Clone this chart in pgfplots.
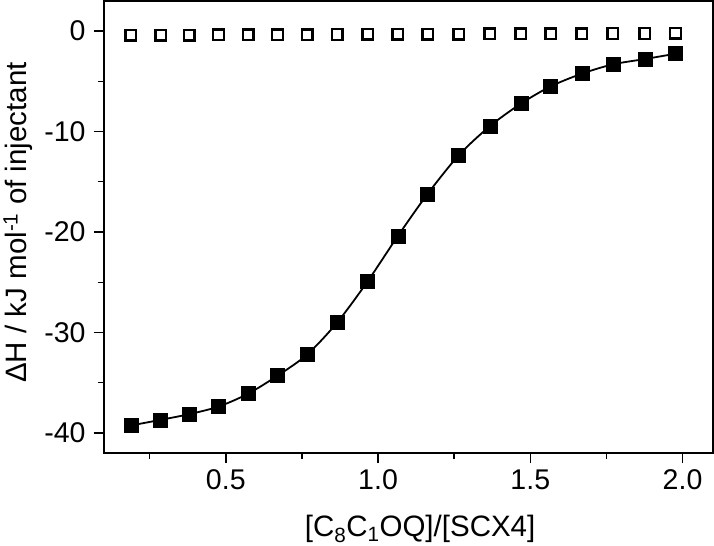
\documentclass[border=0pt]{standalone}
\usepackage{pgfplots}
\pgfplotsset{compat=1.18}
\usepackage{fontspec}
\setmainfont{Liberation Sans}

\begin{document}
\begin{tikzpicture}
\begin{axis}[
    scale only axis,
    width=609bp, height=452bp,
    xmin=0.1, xmax=2.1,
    ymin=-42, ymax=3,
    axis line style={line width=1.6bp},
    tick align=outside,
    tick style={line width=1.4bp, black},
    major tick length=10bp,
    minor tick length=6bp,
    xtick={0.5,1.0,1.5,2.0},
    minor xtick={0.25,0.75,1.25,1.75},
    ytick={-40,-30,-20,-10,0},
    minor ytick={-35,-25,-15,-5},
    xtick pos=bottom, ytick pos=left,
    tick label style={font=\fontsize{28.5bp}{32bp}\selectfont},
    /pgf/number format/assume math mode=true,
    xticklabel style={yshift=-3bp, /pgf/number format/.cd, fixed, fixed zerofill, precision=1},
    yticklabel style={xshift=-5bp},
    xlabel={[C\textsubscript{8}C\textsubscript{1}OQ]/[SCX4]},
    ylabel={ΔH / kJ mol\textsuperscript{-1} of injectant},
    every axis x label/.style={at={(axis description cs:0.519,-0.184)}, anchor=base, inner sep=0pt, font=\fontsize{29.5bp}{33bp}\selectfont},
    every axis y label/.style={at={(axis description cs:-0.127,0.51)}, anchor=base, rotate=90, inner sep=0pt, font=\fontsize{29.5bp}{33bp}\selectfont},
]
\addplot[black, line width=1.8bp, smooth, mark=square*, mark size=7bp, mark options={solid, line width=0.5bp}] coordinates {
(0.188,-39.26) (0.286,-38.70) (0.380,-38.13) (0.476,-37.38) (0.573,-36.10)
(0.670,-34.30) (0.767,-32.20) (0.866,-29.00) (0.966,-24.90) (1.065,-20.40)
(1.163,-16.20) (1.265,-12.36) (1.367,-9.47) (1.469,-7.22) (1.567,-5.50)
(1.669,-4.24) (1.771,-3.31) (1.876,-2.78) (1.977,-2.25)
};
\addplot[only marks, black, mark=square, mark size=5.3bp, mark options={line width=2.4bp, fill=white}] coordinates {
(0.188,-0.42) (0.286,-0.40) (0.380,-0.40) (0.476,-0.38) (0.573,-0.38)
(0.670,-0.36) (0.767,-0.35) (0.866,-0.34) (0.966,-0.32) (1.065,-0.31)
(1.163,-0.30) (1.265,-0.29) (1.367,-0.28) (1.469,-0.27) (1.567,-0.26)
(1.669,-0.25) (1.771,-0.24) (1.876,-0.23) (1.977,-0.22)
};
\coordinate (tl) at (rel axis cs:0,1);
\coordinate (br) at (rel axis cs:1,0);
\end{axis}
\pgfresetboundingbox
\path[use as bounding box] ([xshift=-104bp,yshift=1bp]tl) rectangle ([xshift=1bp,yshift=-92.3bp]br);
\end{tikzpicture}
\end{document}
